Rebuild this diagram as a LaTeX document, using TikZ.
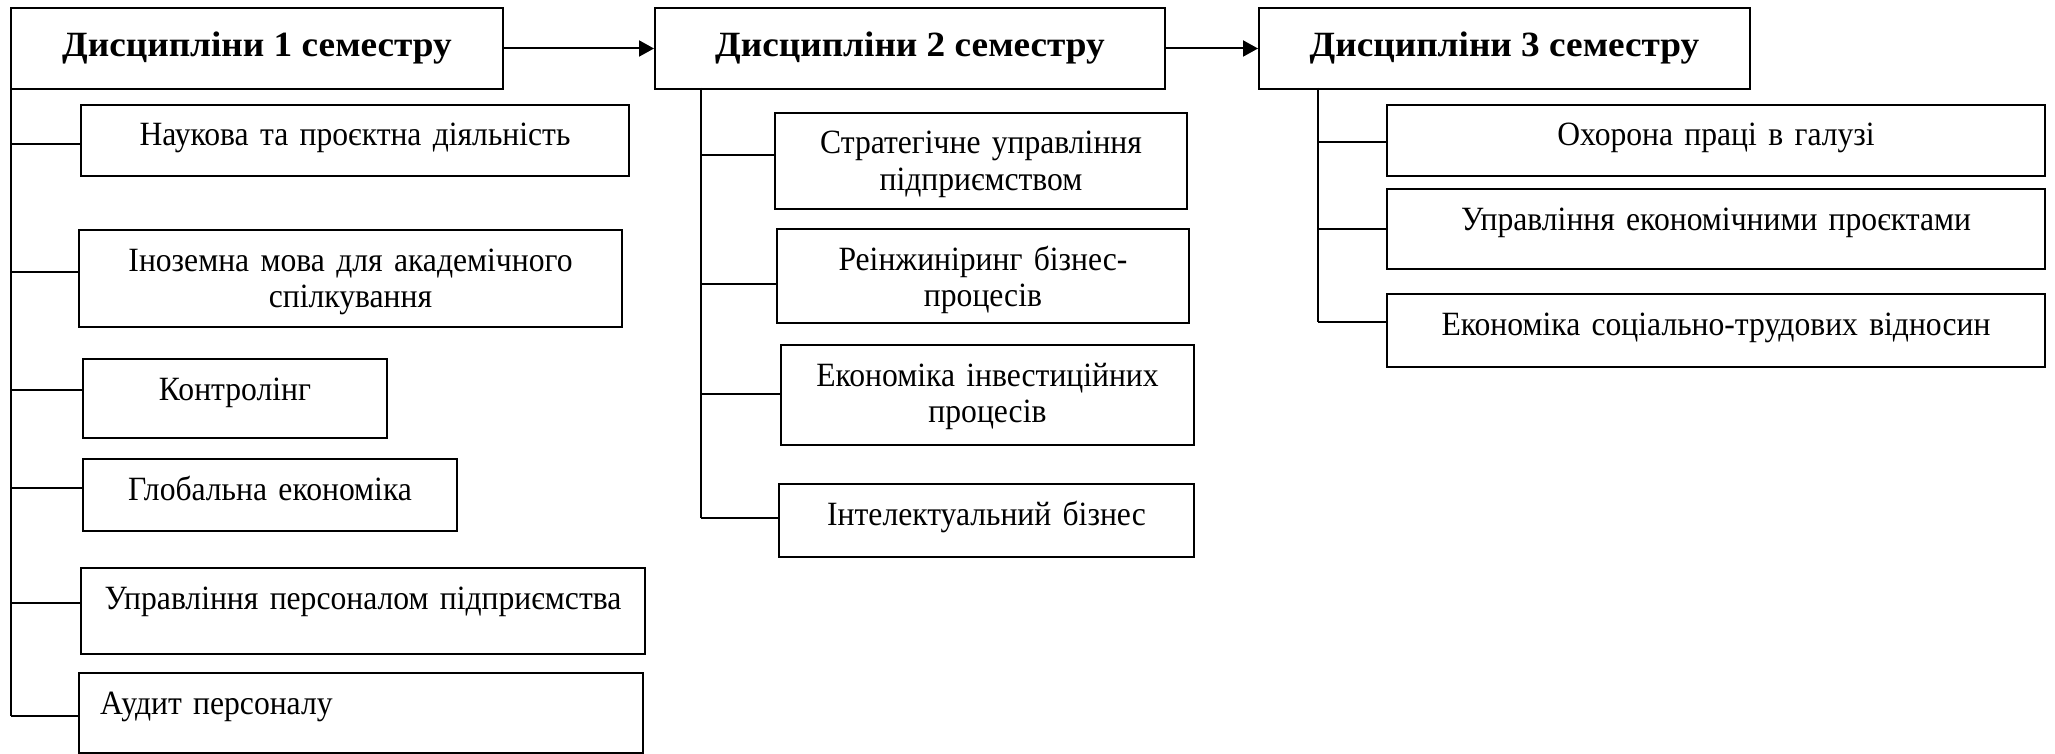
\documentclass[tikz,border=0pt]{standalone}
\usepackage{fontspec}
\setmainfont{Liberation Serif}[FakeStretch=0.93]
\newfontfamily\semfamily{Liberation Serif}[FakeStretch=1.05]
\usetikzlibrary{arrows.meta}
\newcommand{\semfont}{\semfamily\bfseries\fontsize{35.5}{40}\selectfont}
\newcommand{\discfont}{\fontsize{34}{36.5}\selectfont}

\begin{document}
\begin{tikzpicture}[x=1pt, y=-1pt, line width=2pt,
  semhead/.style={draw, font=\semfont, minimum height=81pt, inner sep=0pt, anchor=north west},
  disc/.style={draw, font=\discfont, align=center, inner sep=0pt, text height=41pt, anchor=north west},
  link/.style={-{Triangle[length=15pt, width=16pt]}}]
  \useasboundingbox (0,0) rectangle (2055,754);

  % Semesters
  \node[semhead, minimum width=492pt] (h1) at (10,7) {Дисципліни 1 семестру};
  \node[semhead, minimum width=510pt] (h2) at (654,7) {Дисципліни 2 семестру};
  \node[semhead, minimum width=491pt] (h3) at (1258,7) {Дисципліни 3 семестру};

  % Semester 1
  \node[disc, text width=548pt, text depth=30pt] (n1) at (80,104) {Наукова та проєктна діяльність};
  \node[disc, text width=543pt, text depth=56pt] (n2) at (78,229) {Іноземна мова для академічного\\спілкування};
  \node[disc, text width=304pt, text depth=38pt] (n3) at (82,358) {Контролінг};
  \node[disc, text width=374pt, text depth=31pt] (n4) at (82,458) {Глобальна економіка};
  \node[disc, text width=564pt, text depth=45pt] (n5) at (80,567) {Управління персоналом підприємства};
  \node[disc, align=left, inner xsep=21pt, text width=522pt, text depth=39pt] (n6) at (78,672) {Аудит персоналу};

  % Semester 2
  \node[disc, text width=412pt, text depth=55pt] (s1) at (774,112) {Стратегічне управління\\підприємством};
  \node[disc, text width=412pt, text depth=53pt] (s2) at (776,228) {Реінжиніринг бізнес-\\процесів};
  \node[disc, text width=413pt, text depth=59pt] (s3) at (780,344) {Економіка інвестиційних\\процесів};
  \node[disc, text width=415pt, text depth=32pt] (s4) at (778,483) {Інтелектуальний бізнес};

  % Semester 3
  \node[disc, text width=658pt, text depth=30pt] (o1) at (1386,104) {Охорона праці в галузі};
  \node[disc, text width=658pt, text depth=39pt] (o2) at (1386,188) {Управління економічними проєктами};
  \node[disc, text width=658pt, text depth=32pt] (o3) at (1386,293) {Економіка соціально-трудових відносин};

  % Arrows
  \draw[link] (h1) -- (h2);
  \draw[link] (h2) -- (h3);

  % Trunks
  \coordinate (t1) at (11,88);
  \coordinate (t2) at (701,88);
  \coordinate (t3) at (1318,88);
  \draw (t1) -- (t1 |- 0,716);
  \draw (t2) -- (t2 |- 0,518);
  \draw (t3) -- (t3 |- 0,322);

  % Branches
  \foreach \b/\y in {n1/144, n2/272, n3/390, n4/488, n5/603, n6/716}
    \draw (t1 |- 0,\y) -- (\b.west |- 0,\y);
  \foreach \b/\y in {s1/155, s2/284, s3/394, s4/518}
    \draw (t2 |- 0,\y) -- (\b.west |- 0,\y);
  \foreach \b/\y in {o1/142, o2/229, o3/322}
    \draw (t3 |- 0,\y) -- (\b.west |- 0,\y);
\end{tikzpicture}
\end{document}
